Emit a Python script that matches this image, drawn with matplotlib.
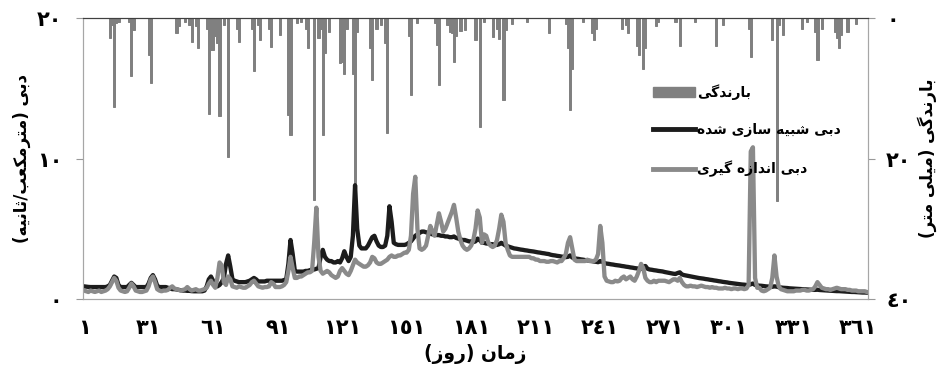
import numpy as np
import matplotlib
matplotlib.use("Agg")
import matplotlib.pyplot as plt
from matplotlib.patches import Patch
from matplotlib.lines import Line2D

plt.rcParams['font.family'] = ['DejaVu Sans']

# ---- data ----
days = np.arange(1, 366)

# observed discharge (m3/s), 10 days per row
observed = [
    0.60, 0.55, 0.50, 0.60, 0.55, 0.50, 0.55, 0.60, 0.50, 0.55,
    0.60, 0.70, 0.90, 1.20, 1.50, 1.30, 0.80, 0.60, 0.55, 0.50,
    0.55, 0.80, 1.10, 0.90, 0.60, 0.55, 0.50, 0.50, 0.55, 0.60,
    0.90, 1.40, 1.60, 1.20, 0.70, 0.60, 0.55, 0.60, 0.60, 0.65,
    0.80, 0.90, 0.75, 0.70, 0.65, 0.60, 0.65, 0.70, 0.85, 0.70,
    0.60, 0.65, 0.70, 0.60, 0.60, 0.65, 0.70, 0.80, 1.10, 1.30,
    1.00, 0.80, 1.50, 2.60, 2.40, 1.20, 1.00, 1.60, 1.40, 0.90,
    0.85, 0.80, 0.90, 0.85, 0.80, 0.80, 0.90, 1.00, 1.20, 1.30,
    1.10, 0.90, 0.85, 0.80, 0.85, 0.85, 0.90, 1.20, 1.10, 0.85,
    0.85, 0.85, 0.90, 1.00, 1.20, 2.00, 3.00, 2.20, 1.50, 1.50,
    1.60, 1.60, 1.70, 1.80, 1.90, 1.90, 2.00, 4.00, 6.50, 3.00,
    2.00, 1.80, 1.90, 2.00, 1.90, 1.70, 1.60, 1.50, 1.60, 2.00,
    2.20, 2.00, 1.80, 1.70, 2.00, 2.40, 2.80, 2.60, 2.50, 2.40,
    2.30, 2.30, 2.40, 2.60, 3.00, 2.90, 2.60, 2.50, 2.50, 2.60,
    2.70, 2.80, 3.00, 3.10, 3.00, 3.00, 3.10, 3.10, 3.20, 3.30,
    3.30, 3.50, 4.50, 7.50, 8.70, 5.00, 3.60, 3.50, 3.60, 3.80,
    4.50, 5.20, 4.80, 4.50, 5.30, 6.10, 5.50, 4.80, 5.00, 5.40,
    5.80, 6.20, 6.70, 5.80, 4.80, 4.20, 3.80, 3.60, 3.50, 3.60,
    3.80, 4.20, 5.00, 6.30, 5.80, 4.00, 4.60, 4.50, 4.00, 3.80,
    3.70, 3.80, 4.20, 5.00, 6.00, 5.50, 4.00, 3.50, 3.10, 3.00,
    3.00, 3.00, 3.00, 3.00, 3.00, 3.00, 3.00, 3.00, 2.90, 2.90,
    2.80, 2.80, 2.70, 2.70, 2.70, 2.65, 2.65, 2.70, 2.70, 2.65,
    2.60, 2.70, 2.70, 2.90, 3.20, 4.00, 4.40, 3.60, 2.80, 2.70,
    2.70, 2.70, 2.70, 2.70, 2.80, 2.70, 2.70, 2.70, 2.80, 3.20,
    5.20, 4.00, 1.60, 1.30, 1.25, 1.20, 1.20, 1.30, 1.25, 1.30,
    1.50, 1.60, 1.40, 1.50, 1.60, 1.40, 1.30, 1.60, 2.00, 2.50,
    2.20, 1.50, 1.30, 1.20, 1.20, 1.30, 1.20, 1.30, 1.30, 1.30,
    1.30, 1.25, 1.20, 1.30, 1.40, 1.40, 1.30, 1.50, 1.20, 1.00,
    0.90, 0.90, 0.95, 0.90, 0.90, 0.85, 0.90, 0.95, 0.90, 0.85,
    0.85, 0.80, 0.85, 0.80, 0.80, 0.75, 0.75, 0.75, 0.80, 0.75,
    0.75, 0.70, 0.75, 0.75, 0.70, 0.75, 0.75, 0.70, 0.75, 1.00,
    10.5, 10.8, 1.50, 0.80, 0.80, 0.60, 0.55, 0.60, 0.70, 0.80,
    1.50, 3.10, 1.60, 0.90, 0.70, 0.65, 0.60, 0.55, 0.55, 0.55,
    0.55, 0.60, 0.60, 0.60, 0.65, 0.65, 0.60, 0.60, 0.65, 0.70,
    0.90, 1.20, 1.00, 0.80, 0.75, 0.70, 0.70, 0.65, 0.70, 0.75,
    0.80, 0.75, 0.70, 0.70, 0.70, 0.65, 0.65, 0.60, 0.60, 0.60,
    0.55, 0.55, 0.55, 0.55, 0.50,
]

# simulated discharge (m3/s)
simulated = [
    0.90, 0.88, 0.86, 0.85, 0.85, 0.85, 0.85, 0.85, 0.85, 0.85,
    0.85, 0.90, 1.00, 1.30, 1.60, 1.50, 1.00, 0.85, 0.85, 0.85,
    0.85, 1.00, 1.15, 1.00, 0.85, 0.85, 0.85, 0.85, 0.85, 0.85,
    1.10, 1.50, 1.70, 1.40, 0.95, 0.85, 0.85, 0.85, 0.85, 0.80,
    0.75, 0.70, 0.70, 0.68, 0.65, 0.62, 0.60, 0.60, 0.58, 0.58,
    0.56, 0.55, 0.55, 0.55, 0.55, 0.55, 0.60, 0.90, 1.40, 1.60,
    1.30, 0.90, 0.90, 1.00, 1.20, 1.50, 2.50, 3.10, 2.30, 1.40,
    1.30, 1.25, 1.20, 1.20, 1.20, 1.20, 1.25, 1.30, 1.40, 1.50,
    1.40, 1.25, 1.25, 1.25, 1.25, 1.30, 1.30, 1.30, 1.30, 1.30,
    1.30, 1.30, 1.30, 1.35, 1.40, 2.50, 4.20, 3.20, 2.00, 1.95,
    1.95, 1.95, 1.95, 2.00, 2.00, 2.05, 2.10, 2.10, 2.15, 2.20,
    3.00, 3.50, 3.00, 2.80, 2.70, 2.70, 2.60, 2.60, 2.70, 2.60,
    2.90, 3.40, 3.00, 2.70, 3.00, 4.50, 8.10, 5.00, 3.80, 3.60,
    3.60, 3.60, 3.80, 4.10, 4.40, 4.50, 4.10, 3.80, 3.70, 3.70,
    3.80, 4.50, 6.60, 5.50, 4.00, 3.90, 3.85, 3.85, 3.85, 3.85,
    3.90, 4.00, 4.10, 4.30, 4.50, 4.60, 4.70, 4.80, 4.80, 4.75,
    4.70, 4.65, 4.60, 4.60, 4.55, 4.55, 4.50, 4.50, 4.45, 4.45,
    4.40, 4.40, 4.45, 4.35, 4.30, 4.25, 4.20, 4.20, 4.15, 4.10,
    4.10, 4.05, 4.10, 4.30, 4.20, 4.00, 4.00, 3.95, 3.95, 3.90,
    3.90, 3.85, 3.85, 3.90, 4.00, 3.90, 3.80, 3.75, 3.70, 3.65,
    3.60, 3.58, 3.55, 3.52, 3.50, 3.47, 3.45, 3.42, 3.40, 3.38,
    3.35, 3.32, 3.30, 3.27, 3.25, 3.22, 3.20, 3.15, 3.12, 3.10,
    3.07, 3.05, 3.02, 3.00, 2.98, 3.00, 3.10, 2.95, 2.90, 2.87,
    2.85, 2.82, 2.80, 2.77, 2.75, 2.72, 2.70, 2.67, 2.65, 2.62,
    2.70, 2.65, 2.55, 2.52, 2.50, 2.47, 2.45, 2.42, 2.40, 2.38,
    2.35, 2.33, 2.30, 2.28, 2.25, 2.23, 2.20, 2.18, 2.16, 2.15,
    2.30, 2.35, 2.15, 2.10, 2.08, 2.05, 2.03, 2.00, 1.98, 1.96,
    1.92, 1.89, 1.86, 1.83, 1.80, 1.78, 1.85, 1.90, 1.75, 1.70,
    1.67, 1.64, 1.61, 1.58, 1.55, 1.52, 1.49, 1.47, 1.45, 1.42,
    1.40, 1.37, 1.35, 1.32, 1.30, 1.27, 1.25, 1.22, 1.20, 1.18,
    1.15, 1.13, 1.11, 1.09, 1.07, 1.05, 1.03, 1.02, 1.00, 1.00,
    1.05, 1.10, 1.00, 0.97, 0.95, 0.94, 0.92, 0.90, 0.89, 0.88,
    0.87, 0.90, 0.88, 0.84, 0.82, 0.80, 0.79, 0.78, 0.76, 0.75,
    0.74, 0.73, 0.72, 0.71, 0.70, 0.69, 0.68, 0.67, 0.66, 0.65,
    0.65, 0.66, 0.64, 0.63, 0.62, 0.61, 0.60, 0.59, 0.58, 0.57,
    0.56, 0.56, 0.55, 0.54, 0.53, 0.52, 0.51, 0.50, 0.50, 0.49,
    0.48, 0.47, 0.46, 0.46, 0.45,
]

# rainfall (mm): day -> depth, other days dry
rain_events = {
    13: 2.9, 14: 1.0, 15: 12.7, 16: 0.7, 17: 0.5, 22: 0.5, 23: 8.2, 24: 1.7,
    31: 5.3, 32: 9.3, 44: 2.2, 45: 1.2, 48: 0.5, 50: 1.0, 51: 3.4, 53: 1.2,
    54: 4.3, 58: 1.5, 59: 13.6, 60: 4.5, 61: 4.6, 62: 2.6, 63: 3.5, 64: 14.0,
    66: 1.0, 68: 19.8, 72: 1.5, 73: 3.4, 79: 1.5, 80: 7.6, 82: 1.0, 83: 3.1,
    87: 1.5, 88: 4.1, 92: 2.4, 96: 13.8, 97: 16.6, 100: 0.7, 102: 0.5,
    104: 1.5, 105: 4.2, 108: 25.9, 110: 2.9, 111: 1.5, 112: 16.6, 113: 5.0,
    115: 2.0, 120: 6.4, 121: 6.2, 122: 7.9, 123: 1.5, 126: 8.0, 127: 23.5,
    128: 2.0, 134: 4.3, 135: 8.8, 137: 1.5, 139: 1.0, 141: 3.5, 142: 16.4,
    152: 2.5, 153: 10.9, 156: 0.7, 164: 0.7, 165: 3.9, 166: 9.5, 170: 1.0,
    171: 2.0, 172: 2.2, 173: 6.2, 174: 2.5, 176: 1.8, 178: 1.7, 183: 3.1,
    185: 15.5, 187: 0.5, 191: 2.7, 193: 1.5, 194: 3.0, 196: 11.7, 197: 1.7,
    200: 0.8, 207: 0.5, 217: 2.2, 225: 0.8, 226: 4.3, 227: 13.1, 228: 7.2,
    233: 0.5, 237: 2.2, 238: 3.1, 239: 1.5, 251: 1.5, 253: 1.0, 254: 2.2,
    258: 4.0, 259: 5.2, 261: 7.2, 262: 4.3, 267: 1.2, 268: 0.5, 276: 0.5,
    278: 4.0, 285: 0.5, 295: 4.0, 298: 1.0, 310: 1.5, 311: 5.5, 321: 3.1,
    323: 26.0, 324: 1.0, 326: 2.4, 335: 1.5, 337: 0.5, 341: 2.0, 342: 6.0,
    344: 1.5, 350: 2.0, 351: 2.8, 352: 4.3, 353: 2.4, 356: 2.0, 360: 0.8,
}
rain = np.zeros(365)
for d, v in rain_events.items():
    rain[d - 1] = v

x_ticks = list(range(1, 366, 30))
q_ticks = [0, 10, 20]
p_ticks = [0, 20, 40]

# ---- minimal Arabic/Persian shaping (matplotlib has no text shaping) ----
# char: (isolated, final, initial, medial); None -> does not join forward
FORMS = {
    'ا': (0xFE8D, 0xFE8E, None, None), 'ب': (0xFE8F, 0xFE90, 0xFE91, 0xFE92),
    'ت': (0xFE95, 0xFE96, 0xFE97, 0xFE98), 'ث': (0xFE99, 0xFE9A, 0xFE9B, 0xFE9C),
    'د': (0xFEA9, 0xFEAA, None, None), 'ر': (0xFEAD, 0xFEAE, None, None),
    'ز': (0xFEAF, 0xFEB0, None, None), 'س': (0xFEB1, 0xFEB2, 0xFEB3, 0xFEB4),
    'ش': (0xFEB5, 0xFEB6, 0xFEB7, 0xFEB8), 'ع': (0xFEC9, 0xFECA, 0xFECB, 0xFECC),
    'ل': (0xFEDD, 0xFEDE, 0xFEDF, 0xFEE0), 'م': (0xFEE1, 0xFEE2, 0xFEE3, 0xFEE4),
    'ن': (0xFEE5, 0xFEE6, 0xFEE7, 0xFEE8), 'ه': (0xFEE9, 0xFEEA, 0xFEEB, 0xFEEC),
    'و': (0xFEED, 0xFEEE, None, None), 'ک': (0xFB8E, 0xFB8F, 0xFB90, 0xFB91),
    'گ': (0xFB92, 0xFB93, 0xFB94, 0xFB95), 'ی': (0xFBFC, 0xFBFD, 0xFBFE, 0xFBFF),
}


def fa(text):
    out = []
    for i, ch in enumerate(text):
        if ch not in FORMS:
            out.append(ch)
            continue
        prev = text[i - 1] if i > 0 else ''
        nxt = text[i + 1] if i + 1 < len(text) else ''
        join_prev = prev in FORMS and FORMS[prev][2] is not None
        join_next = nxt in FORMS and FORMS[ch][2] is not None
        iso, fin, ini, med = FORMS[ch]
        if join_prev and join_next:
            code = med
        elif join_prev:
            code = fin
        elif join_next:
            code = ini
        else:
            code = iso
        out.append(chr(code))
    vis = ''.join(reversed(out))
    return vis.translate(str.maketrans('()', ')('))


def digits(n):
    return str(n).translate(str.maketrans('0123456789', '٠١٢٣٤٥٦٧٨٩'))


# ---- plot ----
fig = plt.figure(figsize=(9.41, 3.69), dpi=100)
ax = fig.add_axes([0.0882, 0.1897, 0.8342, 0.7615])
ax2 = ax.twinx()

ax2.bar(days, rain, width=1.0, color='#808080', edgecolor='#808080',
        linewidth=0.7, zorder=1)
ax2.set_ylim(40, 0)
ax2.set_yticks(p_ticks)
ax2.set_yticklabels([digits(t) for t in p_ticks], fontsize=15, fontweight='bold')

ax.set_zorder(ax2.get_zorder() + 1)
ax.patch.set_visible(False)
ax.plot(days, simulated, color='#1c1c1c', lw=3.1, solid_joinstyle='round')
ax.plot(days, observed, color='#8a8a8a', lw=3.1, solid_joinstyle='round')

ax.set_xlim(0.5, 365.5)
ax.set_ylim(0, 20)
ax.set_yticks(q_ticks)
ax.set_yticklabels([digits(t) for t in q_ticks], fontsize=15, fontweight='bold')
ax.set_xticks(x_ticks)
ax.set_xticklabels([digits(t) for t in x_ticks], fontsize=15, fontweight='bold')
ax.tick_params(axis='x', length=0, pad=14)
ax.tick_params(axis='y', length=5, color='#999999', pad=10)
ax2.tick_params(axis='y', length=5, color='#999999', pad=8)

for a in (ax, ax2):
    for side in ('left', 'right', 'bottom'):
        a.spines[side].set_color('#a6a6a6')
    a.spines['top'].set_color('#404040')

ax.set_xlabel(fa('زمان (روز)'), fontsize=13.5, fontweight='bold', labelpad=4)
ax.set_ylabel(fa('دبی (مترمکعب/ثانیه)'), fontsize=12, fontweight='bold')
ax2.set_ylabel(fa('بارندگی (میلی متر)'), fontsize=12, fontweight='bold')
ax.yaxis.set_label_coords(-0.066, 0.5)
ax2.yaxis.set_label_coords(1.063, 0.5)

handles = [
    Patch(color='#808080'),
    Line2D([], [], color='#1c1c1c', lw=3.5),
    Line2D([], [], color='#8a8a8a', lw=3.5),
]
labels = [fa('بارندگی'), fa('دبی شبیه سازی شده'), fa('دبی اندازه گیری')]
leg = ax.legend(handles, labels, loc='upper left', bbox_to_anchor=(0.71, 0.81),
                frameon=False, handlelength=3.0, handletextpad=0.2,
                labelspacing=1.7, prop={'size': 10, 'weight': 'bold'})

fig.savefig('out.png', dpi=100)
